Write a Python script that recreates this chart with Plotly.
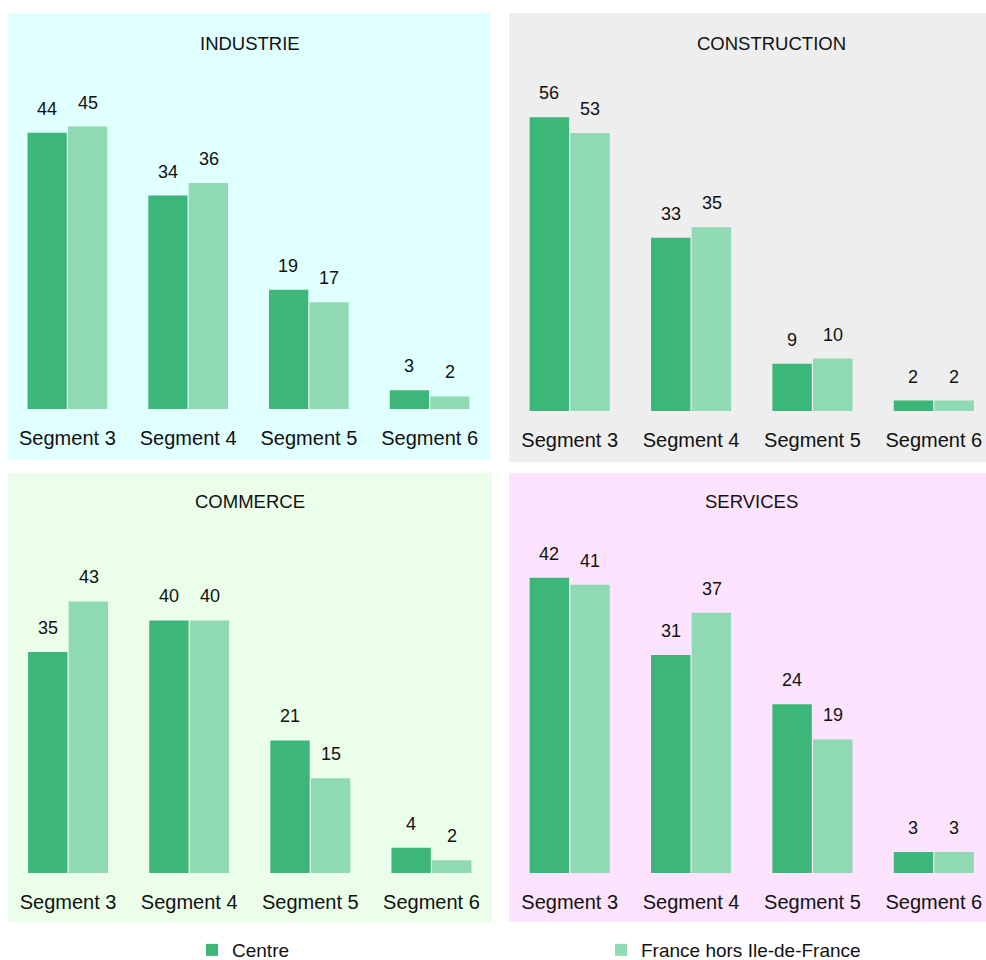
import plotly.graph_objects as go

W, H = 986, 960

segments = ["Segment 3", "Segment 4", "Segment 5", "Segment 6"]
series_names = ["Centre", "France hors Ile-de-France"]
series_colors = ["#3DB67A", "#8FD9B3"]

sectors = ["INDUSTRIE", "CONSTRUCTION", "COMMERCE", "SERVICES"]
centre_values = [
    [44, 34, 19, 3],
    [56, 33, 9, 2],
    [35, 40, 21, 4],
    [42, 31, 24, 3],
]
france_values = [
    [45, 36, 17, 2],
    [53, 35, 10, 2],
    [43, 40, 15, 2],
    [41, 37, 19, 3],
]

panel_colors = ["#E0FFFF", "#EEEEEE", "#EAFEEA", "#FDE3FD"]

# panel boxes in pixels: (x0, x1, y0, y1)
panel_boxes = [(8, 490, 13, 460), (509, 986, 13, 462), (8, 492, 473, 922), (509, 986, 473, 922)]
# plot areas in pixels: (x0, x1, y_top, y_baseline)
plot_boxes = [(7, 490, 60, 409), (509, 986, 60, 411), (7.5, 492, 520, 873), (509, 986, 520, 873)]
x_ranges = [[-0.5, 3.5], [-0.5, 3.43], [-0.5, 3.5], [-0.5, 3.43]]
y_max = [55.6, 66.9, 55.9, 50.2]
title_centers = [(250, 43), (771, 43), (249.5, 501), (751.5, 501)]
legend_left = [192, 601]


def px_x(x):
    return x / W


def px_y(y):
    return 1 - y / H


fig = go.Figure()
shapes = []
annotations = []
FONT = "Liberation Sans, Arial, sans-serif"
legend_ids = ["legend", "legend2"]

for i, sector in enumerate(sectors):
    n = "" if i == 0 else str(i + 1)
    xa, ya = "x" + n, "y" + n
    for s, (name, vals) in enumerate(zip(series_names, [centre_values[i], france_values[i]])):
        fig.add_trace(go.Bar(
            x=segments, y=vals, name=name, marker_color=series_colors[s],
            marker_line_width=0, xaxis=xa, yaxis=ya, offsetgroup=str(s),
            showlegend=(i == 0), legendgroup=name, legend=legend_ids[s],
        ))
        for seg, v in zip(segments, vals):
            annotations.append(dict(
                x=seg, y=v, xref=xa, yref=ya, text=str(v), showarrow=False,
                xshift=(-20.5 if s == 0 else 20.5), yshift=24, yanchor="middle",
                font=dict(size=18, color="#111111", family=FONT),
            ))

    px0, px1, py_top, py_base = plot_boxes[i]
    fig.update_layout(**{
        "xaxis" + n: dict(
            domain=[px_x(px0), px_x(px1)], range=x_ranges[i], anchor=ya,
            showgrid=False, zeroline=False, showline=False, ticks="",
            tickfont=dict(size=20, color="#111111", family=FONT),
            ticklabelstandoff=15, fixedrange=True,
        ),
        "yaxis" + n: dict(
            domain=[px_y(py_base), px_y(py_top)], range=[0, y_max[i]], anchor=xa,
            showgrid=False, zeroline=False, showline=False, showticklabels=False,
            ticks="", fixedrange=True,
        ),
    })

    bx0, bx1, by0, by1 = panel_boxes[i]
    shapes.append(dict(
        type="rect", xref="paper", yref="paper", layer="below",
        x0=px_x(bx0), x1=px_x(bx1), y0=px_y(by1), y1=px_y(by0),
        fillcolor=panel_colors[i], line_width=0,
    ))
    tx, ty = title_centers[i]
    annotations.append(dict(
        x=px_x(tx), y=px_y(ty), xref="paper", yref="paper", text=sector,
        showarrow=False, xanchor="center", yanchor="middle",
        font=dict(size=18.5, color="#111111", family=FONT),
    ))

legend_style = dict(
    orientation="h", y=px_y(950), yref="container", xref="container",
    xanchor="left", yanchor="middle",
    font=dict(size=19, color="#111111", family=FONT),
    bgcolor="rgba(0,0,0,0)",
)

fig.update_layout(
    width=W, height=H,
    margin=dict(l=0, r=0, t=0, b=0, autoexpand=False),
    paper_bgcolor="white", plot_bgcolor="rgba(0,0,0,0)",
    barmode="group", bargap=0.33, bargroupgap=0.03,
    shapes=shapes, annotations=annotations,
    legend=dict(x=px_x(legend_left[0]), **legend_style),
    legend2=dict(x=px_x(legend_left[1]), **legend_style),
    font=dict(family=FONT),
)

fig.write_html("out.html")
